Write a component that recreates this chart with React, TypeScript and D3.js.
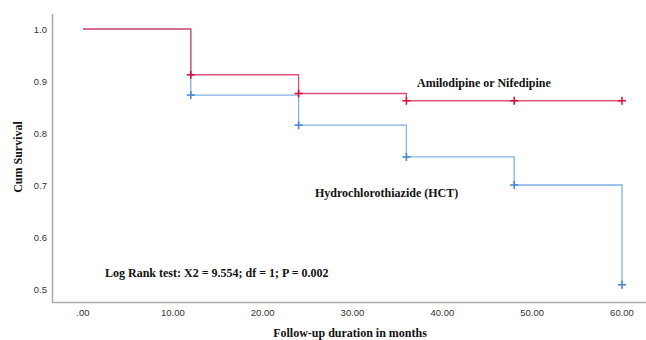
import React, {useEffect, useRef} from 'react';
import * as d3 from 'd3';

// step survival values (month, cum survival)
const months = [0, 12, 24, 36, 48, 60];
const amloSurv = [1.0, 0.912, 0.876, 0.862, 0.862, 0.862];
const hctSurv = [1.0, 0.873, 0.815, 0.754, 0.700, 0.508];
const censorMonths = [12, 24, 36, 48, 60];

const xTicks = [0, 10, 20, 30, 40, 50, 60];
const yTicks = [0.5, 0.6, 0.7, 0.8, 0.9, 1.0];

const width = 646;
const height = 340;

function SurvivalChart() {
    const ref = useRef<SVGSVGElement>(null);

    useEffect(() => {
        const svg = d3.select(ref.current);
        svg.selectAll('*').remove();

        const x = d3.scaleLinear().domain([0, 60]).range([83, 622]);
        const y = d3.scaleLinear().domain([0.5, 1.0]).range([289, 29]);

        const axisColor = '#aaaaaa';
        const serif = '"Liberation Serif", "DejaVu Serif", serif';
        const sans = '"Liberation Sans", Arial, sans-serif';

        // axes lines
        svg.append('line')
            .attr('x1', 52.5).attr('x2', 52.5)
            .attr('y1', 14).attr('y2', 302.5)
            .attr('stroke', axisColor).attr('stroke-width', 1.5);
        svg.append('line')
            .attr('x1', 52).attr('x2', 646)
            .attr('y1', 302.5).attr('y2', 302.5)
            .attr('stroke', axisColor).attr('stroke-width', 1.5);

        // tick labels
        svg.append('g')
            .selectAll('text')
            .data(yTicks)
            .enter()
            .append('text')
            .attr('x', 47)
            .attr('y', (d) => y(d) + 3.5)
            .attr('text-anchor', 'end')
            .attr('font-family', sans)
            .attr('font-size', '9.5px')
            .attr('fill', '#333')
            .text((d) => d.toFixed(1));

        svg.append('g')
            .selectAll('text')
            .data(xTicks)
            .enter()
            .append('text')
            .attr('x', (d) => x(d))
            .attr('y', 316)
            .attr('text-anchor', 'middle')
            .attr('font-family', sans)
            .attr('font-size', '9.5px')
            .attr('fill', '#333')
            .text((d) => (d === 0 ? '.00' : d.toFixed(2)));

        const stepLine = d3.line<[number, number]>()
            .x((d) => x(d[0]))
            .y((d) => y(d[1]))
            .curve(d3.curveStepAfter);

        const series = [
            {vals: hctSurv, line: '#82b2e4', mark: '#4a88d6'},
            {vals: amloSurv, line: '#df5277', mark: '#d4143f'},
        ];

        series.forEach((s) => {
            const pts: [number, number][] = months.map((m, i) => [m, s.vals[i]]);
            svg.append('path')
                .attr('d', stepLine(pts))
                .attr('fill', 'none')
                .attr('stroke', s.line)
                .attr('stroke-width', 1.3);

            // censor crosses
            const marks = svg.append('g')
                .selectAll('g')
                .data(censorMonths)
                .enter()
                .append('g')
                .attr('transform', (m) => `translate(${x(m)}, ${y(s.vals[months.indexOf(m)])})`);
            marks.append('line')
                .attr('x1', -4).attr('x2', 4).attr('y1', 0).attr('y2', 0)
                .attr('stroke', s.mark).attr('stroke-width', 1.6);
            marks.append('line')
                .attr('x1', 0).attr('x2', 0).attr('y1', -4).attr('y2', 4)
                .attr('stroke', s.mark).attr('stroke-width', 1.6);
        });

        // annotations
        const label = (txt: string, tx: number, ty: number, size = 12) =>
            svg.append('text')
                .attr('x', tx)
                .attr('y', ty)
                .attr('font-family', serif)
                .attr('font-weight', 'bold')
                .attr('font-size', `${size}px`)
                .attr('fill', '#111')
                .text(txt);

        label('Amilodipine or Nifedipine', 417, 87);
        label('Hydrochlorothiazide (HCT)', 315, 197);
        label('Log Rank test: X2 = 9.554; df = 1; P = 0.002', 105, 277);

        svg.append('text')
            .attr('x', 350)
            .attr('y', 337)
            .attr('text-anchor', 'middle')
            .attr('font-family', serif)
            .attr('font-weight', 'bold')
            .attr('font-size', '12px')
            .attr('fill', '#111')
            .text('Follow-up duration in months');

        svg.append('text')
            .attr('transform', 'translate(22, 157) rotate(-90)')
            .attr('text-anchor', 'middle')
            .attr('font-family', serif)
            .attr('font-weight', 'bold')
            .attr('font-size', '12px')
            .attr('fill', '#111')
            .text('Cum Survival');
    }, []);

    return <svg ref={ref} width={width} height={height} style={{display: 'block', background: '#fff'}}/>;
}

export default function App() {
    return (
        <div style={{position: 'absolute', left: 0, top: 0}}>
            <SurvivalChart/>
        </div>
    );
}
